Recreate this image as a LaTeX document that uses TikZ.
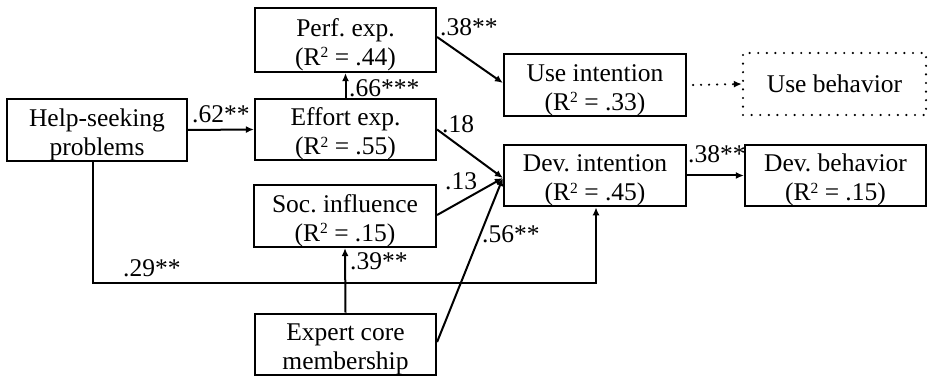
\documentclass[tikz,border=0pt]{standalone}
\usepackage{fontspec}
\setmainfont{Liberation Serif}
\usetikzlibrary{arrows.meta}
\frenchspacing

% small raised "2" for the R-squared values
\newcommand\rsq{R\raisebox{7.5pt}{\fontsize{15.5}{15.5}\selectfont 2}}
% struts that fix the baselines of two-line box texts
\newcommand\upperline{\rule{0pt}{27pt}}
\newcommand\lowerline{\rule[-5pt]{0pt}{5pt}}

\begin{document}
\begin{tikzpicture}[x=1pt,y=-1pt,
  every node/.style={font=\fontsize{25.5}{29}\selectfont},
  box/.style={draw,line width=2.2pt,rectangle,inner sep=0pt,align=center},
  dotbox/.style={draw,line width=2.4pt,dash pattern=on 0pt off 8.6pt,line cap=round,rectangle,inner sep=0pt,align=center},
  link/.style={line width=2pt,-{Latex[length=8pt,width=7pt]}},
  dotlink/.style={line width=2.4pt,dash pattern=on 0pt off 8pt,line cap=round,-{Latex[length=8pt,width=7pt]}},
  coef/.style={anchor=base west,inner sep=0pt}]
  \useasboundingbox (0,0) rectangle (929,379);

  % constructs
  \node[box,minimum width=180pt,minimum height=62pt] (help)   at (97,130)    {\upperline Help-seeking\\problems\lowerline};
  \node[box,minimum width=181pt,minimum height=64pt] (perf)   at (345.5,40)  {\upperline Perf. exp.\\(\rsq{} = .44)\lowerline};
  \node[box,minimum width=181pt,minimum height=61pt] (effort) at (345.5,129.5) {\upperline Effort exp.\\(\rsq{} = .55)\lowerline};
  \node[box,minimum width=182pt,minimum height=62pt] (soc)    at (345,216)   {\upperline Soc. influence\\(\rsq{} = .15)\lowerline};
  \node[box,minimum width=181pt,minimum height=61pt] (expert) at (345.5,344.5) {\upperline Expert core\\membership\lowerline};
  \node[box,minimum width=182pt,minimum height=62pt] (useint) at (595,85)    {\upperline Use intention\\(\rsq{} = .33)\lowerline};
  \node[dotbox,minimum width=183pt,minimum height=62pt] (usebeh) at (834.5,84) {Use behavior};
  \node[box,minimum width=182pt,minimum height=61pt] (devint) at (595,175.5) {\upperline Dev. intention\\(\rsq{} = .45)\lowerline};
  \node[box,minimum width=181pt,minimum height=61pt] (devbeh) at (835.5,175.5) {\upperline Dev. behavior\\(\rsq{} = .15)\lowerline};

  % paths
  \draw[link] (help.east) -- (effort.west);
  \draw[link] (effort.north) -- (perf.south);
  \draw[link] ([yshift=3pt]perf.east) -- ([yshift=2pt]useint.west);
  \draw[link] (effort.east) -- ([yshift=-2.5pt]devint.west);
  \draw[link] ([yshift=1pt]soc.east) -- ([yshift=-2.5pt]devint.west);
  \draw[link] ([yshift=2.5pt]expert.east) -- ([yshift=-2.5pt]devint.west);
  \draw[link] (expert.north) -- (soc.south);
  \draw[link] ([xshift=-4pt]help.south) -- ++(0,121) -| ([xshift=1pt]devint.south);
  \draw[link] (devint.east) -- (devbeh.west);
  \draw[dotlink] ([xshift=6pt]useint.east) -- (usebeh.west);

  % path coefficients
  \node[coef] (c1) at (192,123) {.62**};
  \node[coef] (c2) at (349,97)  {.66***};
  \node[coef] (c3) at (440,36)  {.38**};
  \node[coef] (c4) at (442,133) {.18};
  \node[coef] (c5) at (445,190) {.13};
  \node[coef] (c6) at (482,243) {.56**};
  \node[coef] (c7) at (350,270) {.39**};
  \node[coef] (c8) at (123,277) {.29**};
  \node[coef] (c9) at (688,163) {.38**};
\end{tikzpicture}
\end{document}
